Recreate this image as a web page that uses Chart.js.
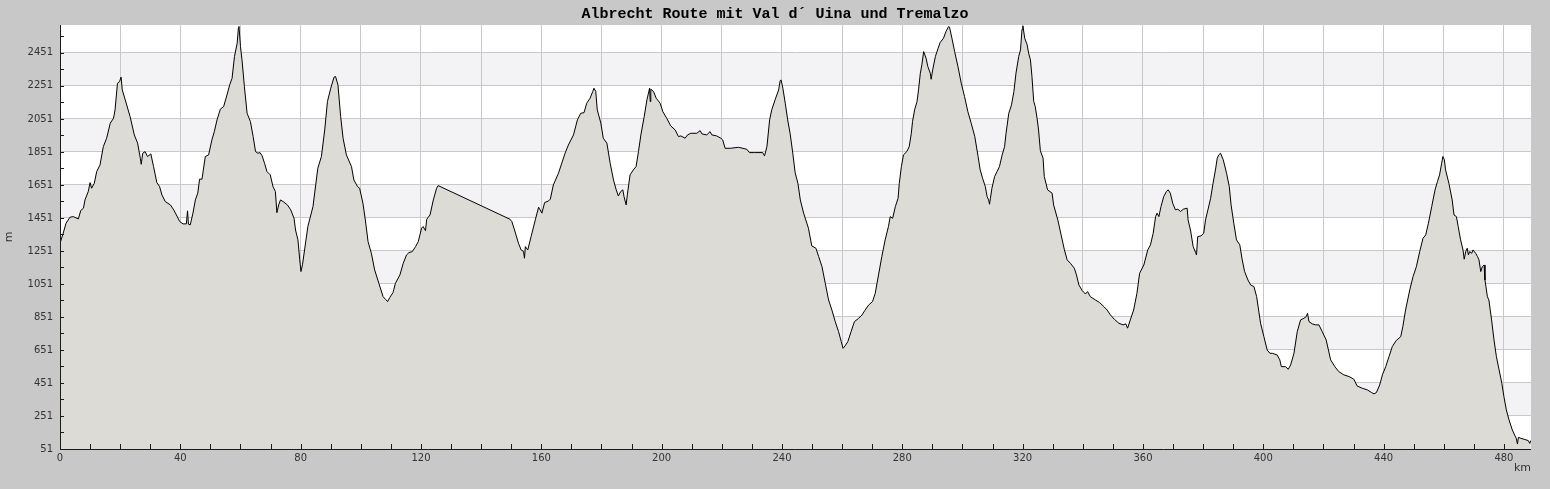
<!DOCTYPE html>
<html>
<head>
<meta charset="utf-8">
<title>Albrecht Route</title>
<script src="https://cdn.jsdelivr.net/npm/chart.js@4"></script>
<style>
  body { margin: 0; background: #c8c8c8; }
  #wrap { width: 1550px; height: 489px; }
</style>
</head>
<body>
<div id="wrap"><canvas id="profile" width="1550" height="489"></canvas></div>
<script>
const chartTitle = "Albrecht Route mit Val d´ Uina und Tremalzo";

// distance (km) and elevation (m)
const km = [
  0, 0.9, 2, 3.3, 4.4, 6.1, 6.9, 7.8, 8.3, 9.4, 10, 10.5, 11.4, 12.2, 13.3, 14.4, 15.5, 16.7, 17.8, 18.3,
  19.1, 19.8, 20.3, 20.7, 21.7, 23.3, 24.7, 25.8, 26.7, 27, 27.5, 28.3, 29.1, 30.2, 31.1, 32.2, 33.1, 33.9, 35, 36.7,
  37.8, 38.7, 39.8, 40.9, 42, 42.4, 42.7, 43.3, 44.2, 45, 45.8, 46.4, 47.2, 48.3, 49.4, 50.5, 51.3, 52.2, 53.3, 54.4,
  55.5, 56.4, 57.2, 58, 58.9, 59.3, 59.5, 60, 60.5, 61.3, 62.2, 63.3, 64.2, 65, 65.8, 66.5, 67.2, 68, 68.8, 69.9,
  70.8, 71.6, 72.1, 72.7, 73.3, 74.2, 75.6, 76.7, 77.8, 78.3, 79.1, 79.7, 80.1, 80.6, 81.3,
  82.4, 84.1, 85.7, 86.9, 88, 88.9, 90, 91.1, 91.6, 92.4, 93.3, 94.1, 95.2, 96.9, 97.7, 98.9, 99.6, 100.7, 101.5,
  102.4, 103.5, 104.6, 106, 107.4, 108.2, 108.9, 109.6, 110.7, 111.5, 113, 114.1, 115.2, 116, 117.1, 118.2, 119.1,
  120.2, 120.7, 121.5, 121.9, 123, 124.1, 125.2, 125.7, 149.6, 150.2, 151.1, 152.4, 153.3, 154.1, 154.4, 154.7,
  155.5, 156.6, 158, 159.1, 160.2, 161.1, 162.4, 163,
  164, 165.7, 167.9, 169, 170.7, 172, 173.1, 174.2, 175.1, 176.2, 177.1, 177.5, 178.1, 178.6, 179.8, 180.6, 181.8,
  182.9, 184, 184.9, 185.6, 186.4, 187.1, 187.5, 188.2, 188.6, 189.5, 190.6, 191.5, 192.3, 193.1, 194.2, 195.1, 196,
  196.2, 196.4, 197.3, 198.2, 199.5, 200.4, 201.7, 203, 204.5, 205.6, 206.4, 207.8, 208.6, 209.7, 211.7, 212.8,
  213.4, 215, 216.1, 216.7, 218.3, 219.7, 220.3, 221.1, 222.8, 225.6, 228.3, 229.2, 230.8, 233.6, 234.2, 235, 235.9,
  236.6, 237.7, 238.9, 239.4, 239.7, 240.3, 241.1, 241.9, 242.7, 243.6, 244.4,
  245.3, 246.1, 247.2, 248.8, 249.9, 251.3, 252.2, 253.3, 254.4, 255.5, 256.6, 257.7, 258.8, 259.7, 260.3, 261,
  261.9, 263, 264.1, 265.5, 266.6, 267.5, 268.8, 270.1, 271, 272.1, 273.2, 274.3, 275.4, 276, 276.8, 277.7, 278.6,
  279, 279.7, 280.4, 281.5, 282.3, 283, 283.4, 284.1, 284.9, 285.4, 286, 286.5, 287.1, 287.9, 288.5, 289.3, 289.6,
  290.1, 291, 291.9, 292.6, 293.7, 294.5, 295.4, 295.7, 296.5, 297.4, 298.5, 299.6, 300.7, 301.8, 302.9, 304.1,
  305.2, 305.9, 306.7, 307.6, 308.2, 308.7, 309, 309.3, 309.8, 310.7, 311.5, 312.3, 313.2, 314, 314.5, 315.4, 316.3,
  317.1, 317.8, 318.7, 319.3, 319.8, 320.1, 320.7, 321.5, 322, 322.6, 323.1, 323.7, 324.2, 324.8, 325.3, 325.9,
  326.8, 327.2, 328.3, 329.8, 330.3, 331.7, 332.8, 333.9, 334.8, 335.9, 337.2, 337.9, 338.7, 339.8, 340.9, 341.6,
  342.5, 344.2, 345.6, 347, 348.1, 349.2, 350.5, 352, 353.4, 354.3, 354.9, 355.8, 356.9, 358, 358.9, 360.3, 361.6,
  362.5, 363.4, 364.2, 364.7, 365.3, 366, 366.9, 367.8, 368.4, 369.1, 369.9, 370.8, 371.6, 372.5, 373.4, 374.7,
  375, 375.8, 376.7, 377.5, 377.8, 378.2, 379.3, 380.2, 380.8, 381.6, 382.5, 383.3, 384.1, 384.7, 385.2, 385.8,
  386.7, 387.8, 388.7, 389.3, 390.2, 391.1, 392.2, 393, 393.8, 394.9, 395.8, 396.9, 397.8, 399.1, 400.2, 401.3,
  402.2, 403, 404.6, 405.5, 406, 407.4,
  408.3, 409.1, 410.2, 411.3, 412.4, 413.5, 414.3, 414.7, 415.2, 416.3, 417.4, 418.5, 419.6, 420.9, 422.4, 423.8,
  425.1, 426.8, 428.5, 430.1, 431.2, 432.9, 434.6, 436, 436.8, 437.6, 438.7, 439.6, 440.7, 441.8, 442.9, 444.2,
  445.7, 446.4, 447.3, 448.7, 449.8, 450.9, 452, 453.1, 454, 454.9, 456, 457.1, 457.9, 458.6, 459.3, 459.7, 460.2,
  460.6, 461.7, 462.8, 463.4, 464.2, 464.8, 465.6, 466.4, 466.8, 467.3, 467.8, 468.2, 468.6, 469.3, 469.7, 470.6,
  471.2, 471.7, 472.3, 472.8, 473.4, 473.7, 474.5, 475, 475.9, 476.7, 477.5, 478.4, 479.3, 480, 480.8, 481.7,
  482.8, 483.7, 484.1, 484.5, 484.8, 485.6, 486.7, 488.1, 488.6, 488.9
];
const elevation = [
  1298, 1348, 1419, 1455, 1459, 1445, 1496, 1510, 1560, 1611, 1665, 1631, 1661, 1732, 1772, 1883, 1934, 2025, 2055, 2106,
  2267, 2277, 2304, 2227, 2166, 2065, 1954, 1904, 1813, 1776, 1843, 1853, 1823, 1839, 1762, 1665, 1641, 1590, 1550, 1530,
  1500, 1469, 1429, 1415, 1415, 1494, 1413, 1409, 1480, 1560, 1601, 1686, 1686, 1823, 1833, 1924, 1974, 2045, 2110, 2126,
  2196, 2257, 2297, 2429, 2510, 2601, 2611, 2489, 2409, 2247, 2085, 2035, 1944, 1853, 1843, 1847, 1827, 1782, 1732, 1712,
  1641, 1611, 1483, 1530, 1560, 1550, 1530, 1500, 1449, 1378, 1318, 1197, 1126, 1167, 1257,
  1399, 1520, 1752, 1823, 1984, 2156, 2237, 2304, 2308, 2257, 2065, 1934, 1833, 1762, 1681, 1641, 1631, 1540, 1439,
  1308, 1237, 1136, 1055, 974, 958, 944, 968, 999, 1055, 1106, 1176, 1227, 1241, 1247, 1277, 1308,
  1389, 1399, 1374, 1443, 1469, 1560, 1631, 1647, 1443, 1429, 1378, 1298, 1257, 1247, 1207, 1277,
  1257, 1338, 1439, 1516, 1480, 1544, 1554, 1565,
  1651, 1722, 1843, 1893, 1954, 2045, 2085, 2089, 2146, 2176, 2217, 2237, 2217, 2106, 2025, 1934, 1904,
  1782, 1681, 1621, 1584, 1611, 1621, 1580, 1530, 1591, 1712, 1742, 1762, 1853, 1954, 2065, 2166, 2237,
  2156, 2231, 2217, 2176, 2146, 2095, 2055, 2009, 1984, 1944, 1948, 1934, 1954, 1964, 1964, 1980,
  1960, 1954, 1974, 1954, 1948, 1934, 1924, 1873, 1873, 1879, 1867, 1847, 1847, 1847, 1827, 1883, 2045,
  2106, 2166, 2227, 2283, 2287, 2237, 2146, 2045, 1964, 1843, 1724,
  1661, 1560, 1480, 1389, 1282, 1267, 1217, 1156, 1055, 954, 893, 823, 763, 702, 661, 676,
  702, 763, 823, 843, 863, 889, 923, 944, 994, 1106, 1217, 1318, 1399, 1459, 1449, 1520, 1570,
  1661, 1762, 1833, 1853, 1883, 1964, 2035, 2106, 2156, 2227, 2328, 2378, 2459, 2419, 2368, 2328, 2291,
  2348, 2429, 2479, 2514, 2540, 2580, 2611, 2607, 2540, 2459, 2368, 2267, 2186, 2095, 2025, 1944,
  1823, 1742, 1691, 1641, 1580, 1560, 1534, 1570, 1631, 1702, 1732, 1762, 1833, 1883, 1964, 2085, 2136,
  2217, 2328, 2429, 2469, 2594, 2615, 2540, 2500, 2449, 2409, 2308, 2156, 2126, 2055, 1984, 1858,
  1813, 1702, 1621, 1601, 1530, 1439, 1348, 1257, 1197, 1176, 1146, 1106, 1045, 1011, 990, 1005,
  974, 954, 938, 914, 893, 863, 837, 813, 803, 809, 783, 833, 893, 994, 1116, 1166, 1257,
  1288, 1358, 1459, 1480, 1459, 1520, 1580, 1611, 1621, 1601, 1540, 1500, 1504, 1490, 1504, 1510,
  1439, 1378, 1277, 1241, 1227, 1338, 1342, 1358, 1439, 1500, 1570, 1661, 1742, 1813, 1833, 1843,
  1803, 1722, 1641, 1530, 1419, 1318, 1288, 1197, 1126, 1075, 1045, 1035, 974, 813, 732, 651,
  631, 631, 621, 591, 550, 550,
  534, 560, 631, 762, 833, 843, 853, 873, 823, 809, 803, 803, 762, 712, 591, 550,
  520, 500, 490, 474, 433, 419, 409, 393, 385, 393, 439, 500, 550, 611, 672, 708,
  732, 793, 893, 1015, 1096, 1156, 1247, 1328, 1348, 1419, 1520, 1621, 1671, 1712, 1782, 1823, 1803,
  1742, 1661, 1560, 1469, 1459, 1399, 1318, 1257, 1201, 1247, 1267, 1227, 1247, 1237, 1257, 1237,
  1217, 1197, 1126, 1156, 1166, 1075, 974, 954, 833, 712, 611, 530, 449, 368, 288, 227,
  166, 130, 116, 81, 122, 116, 110, 102, 85, 102
];

// axis ticks
const yTicks = [51, 251, 451, 651, 851, 1051, 1251, 1451, 1651, 1851, 2051, 2251, 2451];
const yMinorTicks = [151, 351, 551, 751, 951, 1151, 1351, 1551, 1751, 1951, 2151, 2351, 2551];
const xTicks = [0, 20, 40, 60, 80, 100, 120, 140, 160, 180, 200, 220, 240, 260, 280, 300, 320, 340, 360, 380, 400, 420, 440, 460, 480];
const xLabels = [0, 40, 80, 120, 160, 200, 240, 280, 320, 360, 400, 440, 480];
const xMinorTicks = [];
for (let v = 0; v <= 480; v += 10) xMinorTicks.push(v);

const points = km.map((d, i) => ({ x: d, y: elevation[i] }));

const profileDecor = {
  id: 'profileDecor',
  beforeDraw(chart) {
    const { ctx, chartArea: a, scales: { y } } = chart;
    ctx.save();
    ctx.fillStyle = '#ffffff';
    ctx.fillRect(a.left, a.top, a.right - a.left, a.bottom - a.top);
    ctx.fillStyle = '#f3f2f5';
    for (let i = 1; i < yTicks.length - 1; i += 2) {
      const top = y.getPixelForValue(yTicks[i + 1]);
      const bot = y.getPixelForValue(yTicks[i]);
      ctx.fillRect(a.left, top, a.right - a.left, bot - top);
    }
    ctx.restore();
  },
  afterDatasetsDraw(chart) {
    const { ctx, chartArea: a, scales: { x, y } } = chart;
    ctx.save();
    ctx.strokeStyle = '#1a1a1a';
    ctx.lineWidth = 1;
    ctx.beginPath();
    ctx.moveTo(a.left + 0.5, a.top);
    ctx.lineTo(a.left + 0.5, a.bottom + 0.5);
    ctx.lineTo(a.right, a.bottom + 0.5);
    // little tick marks pointing into the plot
    xMinorTicks.forEach(v => {
      const px = Math.round(x.getPixelForValue(v)) + 0.5;
      ctx.moveTo(px, a.bottom);
      ctx.lineTo(px, a.bottom - 5);
    });
    yTicks.concat(yMinorTicks).forEach(v => {
      const py = Math.round(y.getPixelForValue(v)) + 0.5;
      if (py < a.top) return;
      ctx.moveTo(a.left, py);
      ctx.lineTo(a.left + 4, py);
    });
    ctx.stroke();

    ctx.fillStyle = '#000';
    ctx.font = 'bold 15px "Liberation Mono", monospace';
    ctx.textAlign = 'center';
    ctx.textBaseline = 'middle';
    ctx.fillText(chartTitle, 775, 14);
    ctx.restore();
  }
};

new Chart(document.getElementById('profile'), {
  type: 'line',
  data: {
    datasets: [{
      data: points,
      borderColor: '#000',
      borderWidth: 1,
      backgroundColor: '#dcdbd6',
      fill: 'start',
      pointRadius: 0,
      tension: 0
    }]
  },
  options: {
    responsive: false,
    animation: false,
    layout: { padding: { top: 25, right: 19, left: 0, bottom: 0 } },
    plugins: { legend: { display: false }, tooltip: { enabled: false }, title: { display: false } },
    scales: {
      x: {
        type: 'linear',
        min: 0,
        max: 489,
        afterFit: s => { s.height = 40; },
        afterBuildTicks: s => { s.ticks = xTicks.map(v => ({ value: v })); },
        grid: { color: '#c8c8c8', drawTicks: false },
        border: { display: false },
        ticks: {
          autoSkip: false,
          maxRotation: 0,
          padding: 3,
          color: '#333',
          font: { family: 'DejaVu Sans', size: 10 },
          callback: v => xLabels.includes(v) ? String(v) : ''
        },
        title: {
          display: true, text: 'km', align: 'end', color: '#333',
          font: { family: 'DejaVu Sans', size: 11 },
          padding: { top: 0, bottom: 14 }
        }
      },
      y: {
        min: 51,
        max: 2620,
        afterFit: s => { s.width = 60; },
        afterBuildTicks: s => { s.ticks = yTicks.map(v => ({ value: v })); },
        grid: { color: '#c8c8c8', drawTicks: false },
        border: { display: false },
        ticks: {
          padding: 7,
          color: '#333',
          font: { family: 'DejaVu Sans', size: 10 },
          callback: v => String(v)
        },
        title: {
          display: true, text: 'm', color: '#333',
          font: { family: 'DejaVu Sans', size: 11 },
          padding: { top: 3, bottom: 0 }
        }
      }
    }
  },
  plugins: [profileDecor]
});
</script>
</body>
</html>
